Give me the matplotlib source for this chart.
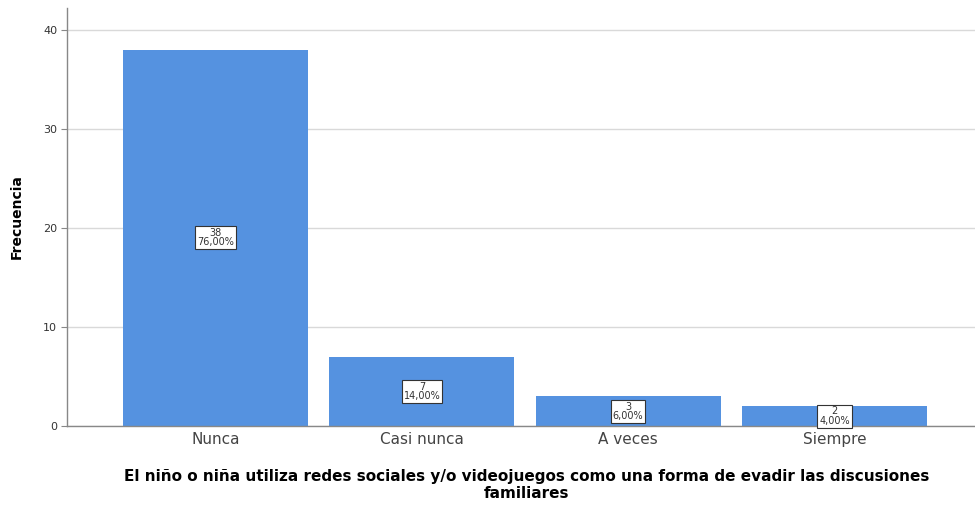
import matplotlib
matplotlib.use("Agg")
import matplotlib.pyplot as plt

categories = ["Nunca", "Casi nunca", "A veces", "Siempre"]
counts = [38, 7, 3, 2]
percents = ["76,00%", "14,00%", "6,00%", "4,00%"]
yticks = [0, 10, 20, 30, 40]

fig = plt.figure(figsize=(9.75, 5.08), dpi=100)
ax = fig.add_axes([67/975, 1-426/508, 916/975, 418/508])

x = list(range(len(categories)))
bars = ax.bar(x, counts, width=0.896, color="#5592E0", zorder=2)
ax.set_xlim(-0.72, 3.72)
ax.set_ylim(0, 42.2)
ax.set_yticks(yticks)
ax.set_yticklabels([str(v) for v in yticks], fontsize=8, color="#333333")
ax.set_xticks(x)
ax.set_xticklabels(categories, fontsize=11, color="#444444")
ax.tick_params(axis="x", length=0, pad=4)
ax.tick_params(axis="y", length=4, color="#888888", pad=3)
ax.yaxis.grid(True, color="#d9d9d9", linewidth=1, zorder=0)
ax.set_axisbelow(True)
for s in ["top", "right"]:
    ax.spines[s].set_visible(False)
for s in ["left", "bottom"]:
    ax.spines[s].set_color("#888888")
    ax.spines[s].set_linewidth(1)

for xi, c, p in zip(x, counts, percents):
    ax.text(xi, c/2, f"{c}\n{p}", ha="center", va="center", fontsize=7,
            color="#333333", linespacing=0.9,
            bbox=dict(boxstyle="square,pad=0.2", facecolor="white",
                      edgecolor="#333333", linewidth=0.8), zorder=3)

ax.set_ylabel("Frecuencia", fontsize=10, fontweight="bold", labelpad=14)
title_lines = ["El niño o niña utiliza redes sociales y/o videojuegos como una forma de evadir las discusiones",
               "familiares"]
fig.text(527/975, 1-477/508, title_lines[0], ha="center", va="center",
         fontsize=11, fontweight="bold")
fig.text(527/975, 1-493/508, title_lines[1], ha="center", va="center",
         fontsize=11, fontweight="bold")

fig.savefig("out.png", dpi=100)
